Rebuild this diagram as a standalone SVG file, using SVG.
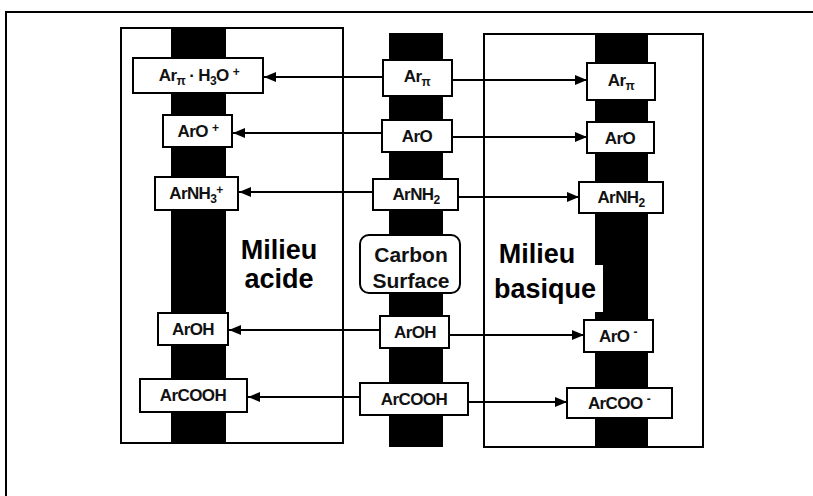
<svg xmlns="http://www.w3.org/2000/svg" width="813" height="496" viewBox="0 0 813 496">
<style>
  .frame { fill: none; stroke: #000; stroke-width: 2; }
  .panel { fill: #fff; stroke: #000; stroke-width: 2; }
  .bar { fill: #000; }
  .box { fill: #fff; stroke: #000; stroke-width: 2; }
  .lbl { font-family: "Liberation Sans", Arial, sans-serif; font-weight: bold; font-size: 17px; fill: #111; text-anchor: middle; letter-spacing: -0.6px; }
  .sub { font-size: 12px; }
  .big { font-family: "Liberation Sans", Arial, sans-serif; font-weight: bold; font-size: 27px; fill: #000; text-anchor: middle; }
  .cs { font-family: "Liberation Sans", Arial, sans-serif; font-weight: bold; font-size: 21px; fill: #111; text-anchor: middle; }
  .conn { stroke: #000; stroke-width: 1.8; fill: none; marker-end: url(#ah); }
</style>
<defs>
  <marker id="ah" markerUnits="userSpaceOnUse" markerWidth="12" markerHeight="10" refX="12" refY="5" orient="auto">
    <path d="M0,0 L12,5 L0,10 z" fill="#000"/>
  </marker>
</defs>
<rect width="813" height="496" fill="#fff"/>
<!-- outer frame -->
<path class="frame" d="M6,496 L6,12 L813,12"/>

<!-- panels -->
<g id="panel-acide">
  <rect class="panel" x="121" y="28" width="222" height="415"/>
  <rect class="bar" x="171" y="28" width="55" height="415"/>
</g>
<g id="panel-carbon">
  <rect class="bar" x="389" y="33" width="54" height="414"/>
</g>
<g id="panel-basique">
  <rect class="panel" x="484" y="34" width="219" height="413"/>
  <rect class="bar" x="595" y="34" width="53" height="413"/>
  <rect x="593" y="265" width="10" height="47" fill="#fff"/>
</g>

<!-- connectors -->
<g id="connectors">
  <line class="conn" x1="383" y1="77" x2="264" y2="77"/>
  <line class="conn" x1="452" y1="80" x2="587" y2="80"/>
  <line class="conn" x1="382" y1="133" x2="233" y2="133"/>
  <line class="conn" x1="452" y1="137" x2="587" y2="137"/>
  <line class="conn" x1="373" y1="192" x2="239" y2="192"/>
  <line class="conn" x1="458" y1="197" x2="579" y2="197"/>
  <line class="conn" x1="380" y1="330" x2="229" y2="330"/>
  <line class="conn" x1="449" y1="335" x2="584" y2="335"/>
  <line class="conn" x1="360" y1="397" x2="248" y2="397"/>
  <line class="conn" x1="468" y1="402" x2="567" y2="402"/>
</g>

<!-- left column (acid) -->
<g id="L1">
  <rect class="box" x="133" y="58" width="130" height="35"/>
  <text class="lbl" x="199" y="81">Ar<tspan class="sub" dy="4">π</tspan><tspan dy="-4"> · H</tspan><tspan class="sub" dy="4">3</tspan><tspan dy="-4">O </tspan><tspan class="sub" dy="-5">+</tspan></text>
</g>
<g id="L2">
  <rect class="box" x="163" y="115" width="69" height="32"/>
  <text class="lbl" x="198" y="137">ArO <tspan class="sub" dy="-5">+</tspan></text>
</g>
<g id="L3">
  <rect class="box" x="155" y="177" width="83" height="33"/>
  <text class="lbl" x="196" y="199">ArNH<tspan class="sub" dy="4">3</tspan><tspan class="sub" dy="-9">+</tspan></text>
</g>
<g id="L4">
  <rect class="box" x="158" y="313" width="70" height="32"/>
  <text class="lbl" x="193" y="335">ArOH</text>
</g>
<g id="L5">
  <rect class="box" x="140" y="379" width="107" height="33"/>
  <text class="lbl" x="193" y="401">ArCOOH</text>
</g>

<!-- center column (carbon surface) -->
<g id="C1">
  <rect class="box" x="383" y="60" width="69" height="36"/>
  <text class="lbl" x="417" y="82">Ar<tspan class="sub" dy="4">π</tspan></text>
</g>
<g id="C2">
  <rect class="box" x="382" y="120" width="70" height="32"/>
  <text class="lbl" x="417" y="142">ArO</text>
</g>
<g id="C3">
  <rect class="box" x="373" y="179" width="85" height="31"/>
  <text class="lbl" x="416" y="200">ArNH<tspan class="sub" dy="4">2</tspan></text>
</g>
<g id="C-surface">
  <rect class="box" x="360" y="235" width="100" height="58" rx="9"/>
  <text class="cs" x="411" y="262">Carbon</text>
  <text class="cs" x="411" y="288">Surface</text>
</g>
<g id="C4">
  <rect class="box" x="380" y="316" width="69" height="32"/>
  <text class="lbl" x="415" y="338">ArOH</text>
</g>
<g id="C5">
  <rect class="box" x="360" y="383" width="108" height="32"/>
  <text class="lbl" x="414" y="405">ArCOOH</text>
</g>

<!-- right column (basic) -->
<g id="R1">
  <rect class="box" x="587" y="63" width="68" height="37"/>
  <text class="lbl" x="621" y="86">Ar<tspan class="sub" dy="4">π</tspan></text>
</g>
<g id="R2">
  <rect class="box" x="587" y="122" width="67" height="31"/>
  <text class="lbl" x="620" y="144">ArO</text>
</g>
<g id="R3">
  <rect class="box" x="579" y="182" width="84" height="31"/>
  <text class="lbl" x="621" y="203">ArNH<tspan class="sub" dy="4">2</tspan></text>
</g>
<g id="R4">
  <rect class="box" x="584" y="320" width="69" height="32"/>
  <text class="lbl" x="618" y="342">ArO <tspan class="sub" dy="-6">-</tspan></text>
</g>
<g id="R5">
  <rect class="box" x="567" y="388" width="105" height="30"/>
  <text class="lbl" x="619" y="409">ArCOO <tspan class="sub" dy="-6">-</tspan></text>
</g>

<!-- medium labels -->
<g id="label-acide">
  <text class="big" x="279" y="259">Milieu</text>
  <text class="big" x="279" y="288">acide</text>
</g>
<g id="label-basique">
  <text class="big" x="537" y="263">Milieu</text>
  <text class="big" x="545" y="298">basique</text>
</g>
</svg>
